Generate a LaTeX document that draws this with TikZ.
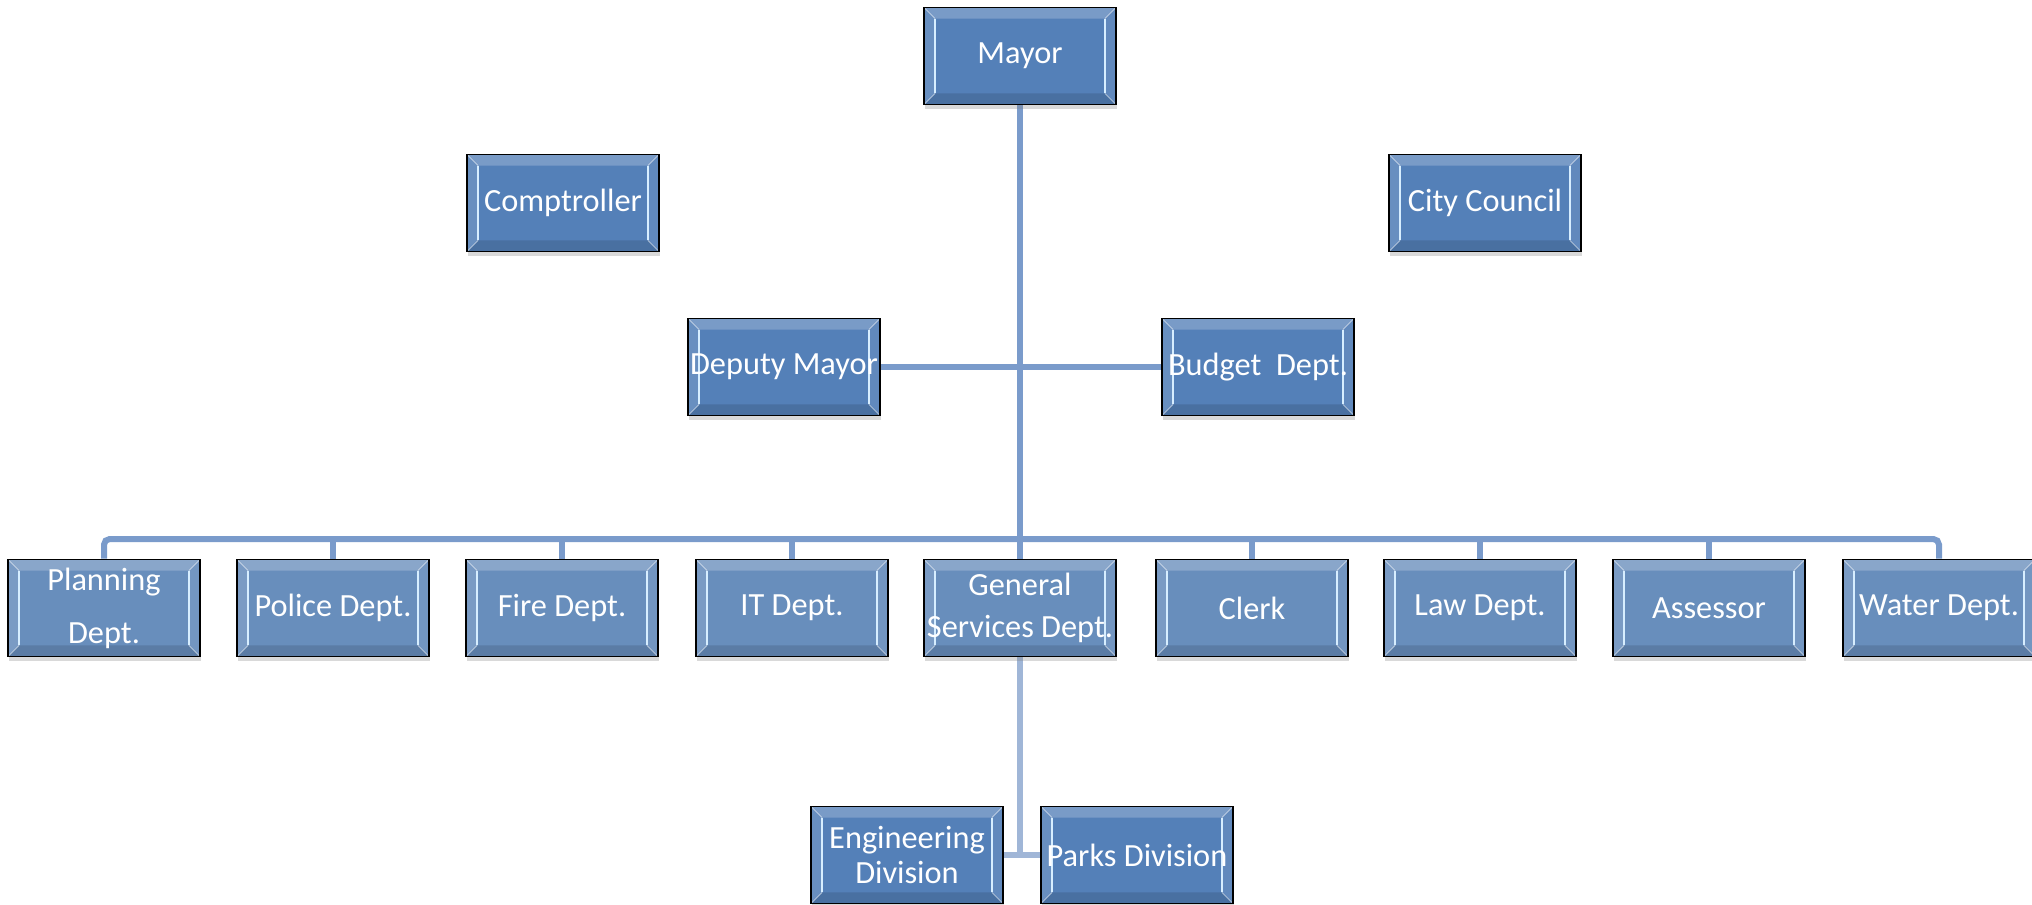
\documentclass[tikz,border=0pt]{standalone}
\usepackage{fontspec}
\setmainfont{Carlito}
\usetikzlibrary{shadows,backgrounds}
\definecolor{boxblue}{RGB}{84,128,184}
\definecolor{boxsoft}{RGB}{104,142,188}
\definecolor{linkblue}{RGB}{122,155,203}
\definecolor{linklight}{RGB}{160,182,215}
\definecolor{hilite}{RGB}{215,238,255}
\tikzset{
  bevel/.style={path picture={
    \coordinate (pa) at (path picture bounding box.north west);
    \coordinate (pb) at (path picture bounding box.north east);
    \coordinate (pc) at (path picture bounding box.south east);
    \coordinate (pd) at (path picture bounding box.south west);
    \coordinate (qa) at ([shift={(0.28cm,-0.28cm)}]pa);
    \coordinate (qb) at ([shift={(-0.28cm,-0.28cm)}]pb);
    \coordinate (qc) at ([shift={(-0.28cm,0.28cm)}]pc);
    \coordinate (qd) at ([shift={(0.28cm,0.28cm)}]pd);
    \fill[white, opacity=0.22] (pa) -- (pb) -- (qb) -- (qa) -- cycle;
    \fill[black, opacity=0.12] (pd) -- (pc) -- (qc) -- (qd) -- cycle;
    \fill[white, opacity=0.12] (pa) -- (qa) -- (qd) -- (pd) -- cycle;
    \fill[white, opacity=0.08] (pb) -- (qb) -- (qc) -- (pc) -- cycle;
    \draw[hilite, line width=1.5pt] (qa) -- (qd);
    \draw[hilite, line width=1.5pt] (qb) -- (qc);
    \draw[white, opacity=0.5, line width=0.6pt] (pa) -- (qa) (pb) -- (qb) (pc) -- (qc) (pd) -- (qd);
  }},
  orgbox/.style={draw=black, line width=1.2pt, fill=boxblue,
    minimum width=4.8cm, minimum height=2.425cm, inner sep=0pt,
    align=center, text=white, font=\fontsize{23}{28}\selectfont,
    drop shadow={shadow xshift=0.5pt, shadow yshift=-3pt, opacity=0.3}, bevel},
  softbox/.style={orgbox, fill=boxsoft},
  link/.style={draw=linkblue, line width=0.15cm},
  sublink/.style={draw=linklight, line width=0.13cm}
}
\begin{document}
\begin{tikzpicture}[x=0.025cm, y=-0.025cm]
\useasboundingbox (0,0) rectangle (2032,904);
\node[orgbox] (mayor) at (1020,56) {Mayor};
\node[orgbox] (comptroller) at (563,203) {Comptroller};
\node[orgbox] (council) at (1485,203) {City Council};
\node[orgbox] (deputy) at (784,367) {Deputy Mayor};
\node[orgbox] (budget) at (1258,367) {Budget\ \ Dept.};
\node[softbox, font=\fontsize{23}{37.6}\selectfont] (planning) at (104,608) {Planning\\Dept.};
\node[softbox] (police) at (333,608) {Police Dept.};
\node[softbox] (fire) at (562,608) {Fire Dept.};
\node[softbox] (it) at (792,608) {IT Dept.};
\node[softbox, font=\fontsize{23}{29.4}\selectfont] (gs) at (1020,608) {General\\Services Dept.};
\node[softbox] (clerk) at (1252,608) {Clerk};
\node[softbox] (law) at (1480,608) {Law Dept.};
\node[softbox] (assessor) at (1709,608) {Assessor};
\node[softbox] (water) at (1939,608) {Water Dept.};
\node[orgbox, font=\fontsize{23}{25}\selectfont] (eng) at (907,855) {Engineering\\Division};
\node[orgbox] (parks) at (1137,855) {Parks Division};
\coordinate (busy) at (0,539);
\begin{scope}[on background layer]
\draw[link] (mayor.south) -- (gs.north);
\draw[link] (deputy.east) -- (budget.west);
\draw[link, rounded corners=4pt] (planning.north) |- (water.north |- busy) -- (water.north);
\foreach \n in {police,fire,it,clerk,law,assessor} \draw[link] (\n.north) -- (\n.north |- busy);
\draw[sublink] (gs.south) -- (gs.south |- eng.east);
\draw[sublink] (eng.east) -- (parks.west);
\end{scope}
\end{tikzpicture}
\end{document}
